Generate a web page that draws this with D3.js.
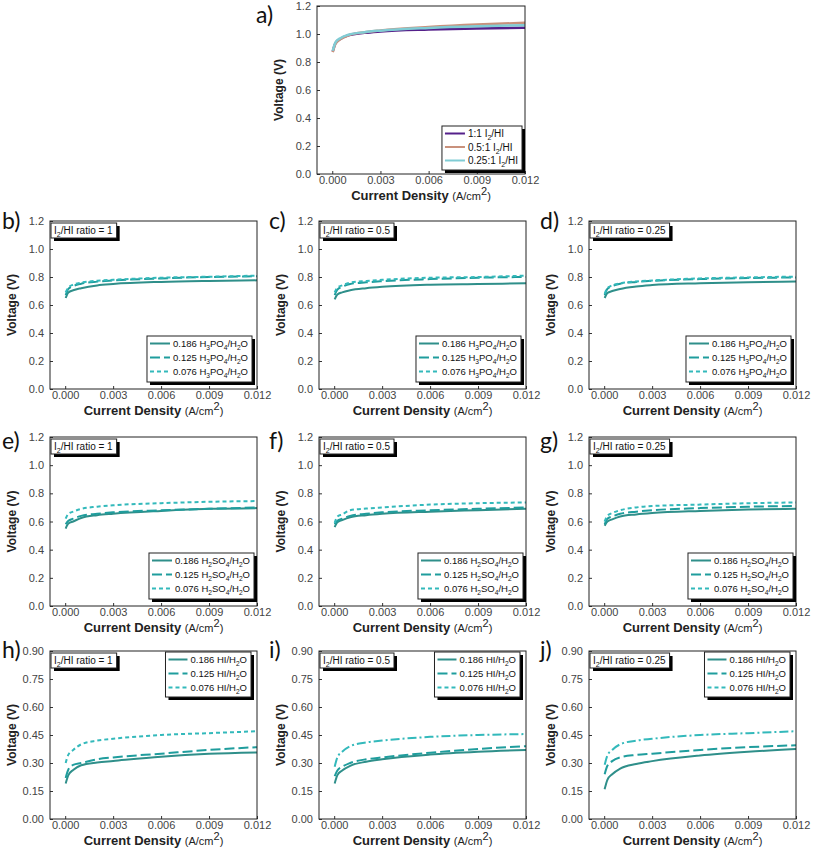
<!DOCTYPE html>
<html><head><meta charset="utf-8">
<script src="https://cdn.jsdelivr.net/npm/d3@7"></script>
<style>body{margin:0;background:#fff}</style>
</head><body>
<svg id="c" width="813" height="852" xmlns="http://www.w3.org/2000/svg"></svg>
<script>
// ---------- data ----------
const currentDensity = [0.00003, 0.0002, 0.0005, 0.001, 0.002, 0.003, 0.006, 0.009, 0.012];
const xTickValues = [0, 0.003, 0.006, 0.009, 0.012];
const yTicksVolt = [0, 0.2, 0.4, 0.6, 0.8, 1.0, 1.2];
const yTicksHI = [0, 0.15, 0.30, 0.45, 0.60, 0.75, 0.90];

// panel a
const a_1to1   = [0.875, 0.935, 0.965, 0.990, 1.008, 1.018, 1.032, 1.040, 1.045];
const a_05to1  = [0.870, 0.930, 0.962, 0.990, 1.012, 1.025, 1.050, 1.068, 1.080];
const a_025to1 = [0.880, 0.940, 0.970, 0.995, 1.013, 1.024, 1.043, 1.055, 1.063];
const aLabels = ["1:1 I_2/HI", "0.5:1 I_2/HI", "0.25:1 I_2/HI"];

// H3PO4 panels (b, c, d)
const b_186 = [0.650, 0.690, 0.705, 0.720, 0.740, 0.750, 0.765, 0.772, 0.776];
const b_125 = [0.670, 0.715, 0.735, 0.752, 0.767, 0.775, 0.790, 0.800, 0.805];
const b_076 = [0.690, 0.725, 0.745, 0.760, 0.773, 0.780, 0.795, 0.802, 0.810];
const c_186 = [0.640, 0.675, 0.690, 0.705, 0.720, 0.730, 0.745, 0.750, 0.755];
const c_125 = [0.670, 0.710, 0.730, 0.750, 0.762, 0.770, 0.785, 0.795, 0.800];
const c_076 = [0.690, 0.725, 0.740, 0.760, 0.772, 0.780, 0.795, 0.800, 0.810];
const d_186 = [0.650, 0.685, 0.700, 0.715, 0.732, 0.742, 0.755, 0.763, 0.768];
const d_125 = [0.670, 0.715, 0.735, 0.752, 0.765, 0.772, 0.785, 0.792, 0.797];
const d_076 = [0.680, 0.720, 0.740, 0.755, 0.768, 0.775, 0.790, 0.797, 0.803];
// H2SO4 panels (e, f, g)
const e_186 = [0.550, 0.585, 0.600, 0.625, 0.645, 0.655, 0.675, 0.690, 0.695];
const e_125 = [0.580, 0.605, 0.620, 0.640, 0.655, 0.665, 0.680, 0.690, 0.700];
const e_076 = [0.620, 0.655, 0.670, 0.690, 0.705, 0.715, 0.730, 0.740, 0.745];
const f_186 = [0.560, 0.595, 0.610, 0.630, 0.645, 0.655, 0.670, 0.680, 0.690];
const f_125 = [0.580, 0.605, 0.620, 0.640, 0.655, 0.665, 0.680, 0.690, 0.700];
const f_076 = [0.590, 0.635, 0.650, 0.680, 0.692, 0.700, 0.720, 0.730, 0.735];
const g_186 = [0.570, 0.600, 0.615, 0.635, 0.650, 0.660, 0.675, 0.685, 0.690];
const g_125 = [0.580, 0.620, 0.635, 0.655, 0.670, 0.680, 0.695, 0.705, 0.710];
const g_076 = [0.600, 0.640, 0.660, 0.680, 0.700, 0.710, 0.720, 0.730, 0.735];
// HI panels (h, i, j)
const h_186 = [0.190, 0.235, 0.263, 0.288, 0.303, 0.311, 0.334, 0.349, 0.356];
const h_125 = [0.220, 0.265, 0.290, 0.300, 0.320, 0.330, 0.350, 0.370, 0.385];
const h_076 = [0.300, 0.345, 0.370, 0.400, 0.420, 0.430, 0.450, 0.460, 0.470];
const i_186 = [0.190, 0.235, 0.260, 0.285, 0.307, 0.320, 0.345, 0.360, 0.370];
const i_125 = [0.230, 0.260, 0.280, 0.300, 0.320, 0.330, 0.355, 0.375, 0.390];
const i_076 = [0.280, 0.330, 0.360, 0.390, 0.410, 0.420, 0.440, 0.450, 0.455];
const j_186 = [0.160, 0.210, 0.240, 0.270, 0.295, 0.310, 0.340, 0.360, 0.375];
const j_125 = [0.240, 0.285, 0.310, 0.330, 0.343, 0.350, 0.370, 0.385, 0.395];
const j_076 = [0.290, 0.340, 0.370, 0.400, 0.420, 0.430, 0.450, 0.460, 0.470];

const ratioLabels = ["I_2/HI ratio = 1", "I_2/HI ratio = 0.5", "I_2/HI ratio = 0.25"];
const h3po4Labels = ["0.186 H_3PO_4/H_2O", "0.125 H_3PO_4/H_2O", "0.076 H_3PO_4/H_2O"];
const h2so4Labels = ["0.186 H_2SO_4/H_2O", "0.125 H_2SO_4/H_2O", "0.076 H_2SO_4/H_2O"];
const hiLabels = ["0.186 HI/H_2O", "0.125 HI/H_2O", "0.076 HI/H_2O"];

// ---------- styles / layout ----------
const colA = ["#55208a", "#c9917c", "#80ccd4"];
const colT = ["#2f8f8a", "#1f9d9d", "#33b9bb"];
const dashT = [null, "10,4", "4,3"];
const colLeft = [50, 319, 589];
const rowTop = [221, 437, 651];
const rowH = [168, 169, 168];
const PW = 207;

const svg = d3.select("#c");
const FONT = "'Liberation Sans', Arial, sans-serif";

function rich(text, str, size) {
  const tokens = [];
  let buf = "";
  for (let i = 0; i < str.length; i++) {
    if (str[i] === "_" && i + 1 < str.length) {
      if (buf) tokens.push({ t: buf, sub: false });
      buf = "";
      tokens.push({ t: str[i + 1], sub: true });
      i++;
    } else buf += str[i];
  }
  if (buf) tokens.push({ t: buf, sub: false });
  const sh = size * 0.3;
  let prevSub = false;
  tokens.forEach(tk => {
    const ts = text.append("tspan").attr("font-size", tk.sub ? size * 0.7 : size).text(tk.t);
    if (tk.sub && !prevSub) ts.attr("dy", sh);
    if (!tk.sub && prevSub) ts.attr("dy", -sh);
    prevSub = tk.sub;
  });
  return text;
}

// draws a shadowed box behind everything already in group g
function shadowBox(g, x, y, w, h) {
  g.insert("rect", ":first-child").attr("x", x).attr("y", y).attr("width", w).attr("height", h)
    .attr("fill", "#fff").attr("stroke", "#222").attr("stroke-width", 1);
  g.insert("rect", ":first-child").attr("x", x + 3).attr("y", y + 3).attr("width", w).attr("height", h).attr("fill", "#000");
}

function panel(opt) {
  const { left, top, w, h, yDomain, yTicks, yFmt, series, colors, dashes, labels, letter, letterX, letterY } = opt;
  const g = svg.append("g");
  const x = d3.scaleLinear().domain([-0.00095, 0.012]).range([left, left + w]);
  const y = d3.scaleLinear().domain(yDomain).range([top + h, top]);

  // axes
  const ax = g.append("g").attr("transform", `translate(0,${top + h})`)
    .call(d3.axisBottom(x).tickValues(xTickValues).tickSize(-3).tickPadding(2).tickFormat(d3.format(".3f")));
  const ay = g.append("g").attr("transform", `translate(${left},0)`)
    .call(d3.axisLeft(y).tickValues(yTicks).tickSize(-3).tickPadding(6).tickFormat(d3.format(yFmt)));
  [ax, ay].forEach(a => {
    a.select(".domain").remove();
    a.selectAll("line").attr("stroke", "#333");
    a.selectAll("text").attr("font-family", FONT).attr("font-size", 11).attr("fill", "#444");
  });

  // lines
  const line = d3.line().x((d, i) => x(currentDensity[i])).y(d => y(d)).curve(d3.curveMonotoneX);
  series.forEach((s, k) => {
    g.append("path").attr("d", line(s)).attr("fill", "none")
      .attr("stroke", colors[k]).attr("stroke-width", opt.lw || 2)
      .attr("stroke-dasharray", (opt.curveDashes || dashes)[k]);
  });

  // frame
  g.append("rect").attr("x", left).attr("y", top).attr("width", w).attr("height", h)
    .attr("fill", "none").attr("stroke", "#222").attr("stroke-width", 1);

  // axis titles
  const xt = g.append("text").attr("x", left + w / 2).attr("y", top + h + 26)
    .attr("text-anchor", "middle").attr("font-family", FONT).attr("fill", "#222");
  xt.append("tspan").attr("font-weight", "bold").attr("font-size", 13).text("Current Density ");
  xt.append("tspan").attr("font-size", 11).text("(A/cm");
  xt.append("tspan").attr("font-size", 11).attr("dy", -5).text("2");
  xt.append("tspan").attr("font-size", 11).attr("dy", 5).text(")");
  g.append("text").attr("transform", `translate(${left - 34},${top + h / 2}) rotate(-90)`)
    .attr("text-anchor", "middle").attr("font-family", FONT).attr("font-weight", "bold")
    .attr("font-size", 12).attr("fill", "#222").text("Voltage (V)");

  // panel letter
  g.append("text").attr("x", letterX).attr("y", letterY).attr("font-family", "Lato, 'Open Sans', sans-serif")
    .attr("font-size", 23).attr("fill", "#111").text(letter);

  // ratio box
  if (opt.ratio) {
    const rg = g.append("g");
    const t = rg.append("text").attr("x", left + 4).attr("y", top + 13)
      .attr("font-family", FONT).attr("font-size", 10).attr("fill", "#111");
    rich(t, opt.ratio, 10);
    const tw = t.node().getComputedTextLength();
    shadowBox(rg, left + 1, top + 2, tw + 7, 15);
  }

  // legend
  const L = opt.legend;
  const lg = g.append("g");
  let maxW = 0;
  const texts = labels.map((lab, k) => {
    const cy = L.y + 7.5 + k * L.dy;
    const t = lg.append("text").attr("y", cy + 3.5).attr("font-family", FONT)
      .attr("font-size", L.fs).attr("fill", "#111");
    rich(t, lab, L.fs);
    maxW = Math.max(maxW, t.node().getComputedTextLength());
    return t;
  });
  const bw = L.lineW + 3 + maxW + 4;
  const bx = L.right - bw;
  texts.forEach(t => t.attr("x", bx + L.lineW + 3));
  labels.forEach((lab, k) => {
    const cy = L.y + 7.5 + k * L.dy;
    lg.append("line").attr("x1", bx + 3).attr("x2", bx + L.lineW).attr("y1", cy).attr("y2", cy)
      .attr("stroke", colors[k]).attr("stroke-width", 2).attr("stroke-dasharray", dashes[k]);
  });
  shadowBox(lg, bx, L.y, bw, L.h);
}

// panel a
panel({
  left: 317, top: 6, w: 208, h: 168, yDomain: [0, 1.2], yTicks: yTicksVolt, yFmt: ".1f",
  series: [a_1to1, a_05to1, a_025to1], colors: colA, dashes: [null, null, null], labels: aLabels,
  letter: "a)", letterX: 256, letterY: 23, lw: 2.5,
  legend: { right: 522, y: 126, h: 44, dy: 13.5, lineW: 23, fs: 10 }
});

const rowSeries = [
  [[b_186, b_125, b_076], [c_186, c_125, c_076], [d_186, d_125, d_076]],
  [[e_186, e_125, e_076], [f_186, f_125, f_076], [g_186, g_125, g_076]],
  [[h_186, h_125, h_076], [i_186, i_125, i_076], [j_186, j_125, j_076]]
];
const rowLabels = [h3po4Labels, h2so4Labels, hiLabels];
const letters = [["b)", "c)", "d)"], ["e)", "f)", "g)"], ["h)", "i)", "j)"]];
const letterXs = [2, 269, 540];
const letterYs = [229, 449, 658];

for (let r = 0; r < 3; r++) {
  for (let c = 0; c < 3; c++) {
    const left = colLeft[c], top = rowTop[r], h = rowH[r];
    const isHI = r === 2;
    const legend = isHI
      ? { right: left + PW - 6, y: top + 1, h: 45, dy: 14, lineW: 22, fs: 9.5 }
      : { right: left + PW - (r === 0 ? 5 : 3), y: top + h - 53, h: 46, dy: 14, lineW: 23, fs: 9.5 };
    panel({
      left, top, w: PW, h,
      yDomain: isHI ? [0, 0.9] : [0, 1.2], yTicks: isHI ? yTicksHI : yTicksVolt, yFmt: isHI ? ".2f" : ".1f",
      series: rowSeries[r][c], colors: colT, dashes: dashT,
      curveDashes: (isHI && c > 0) ? [null, "10,4", "9,3,2,3"] : dashT,
      labels: rowLabels[r], letter: letters[r][c], letterX: letterXs[c], letterY: letterYs[r],
      ratio: ratioLabels[c], legend
    });
  }
}
</script>
</body></html>
